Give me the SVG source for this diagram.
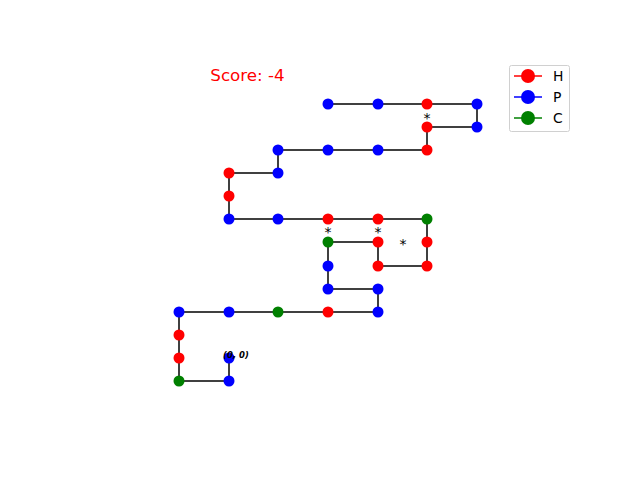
<svg xmlns="http://www.w3.org/2000/svg" width="640" height="480" viewBox="0 0 640 480">
<style>
.e{stroke:#404040;stroke-width:2;fill:none}
.H{fill:#ff0000}.P{fill:#0000ff}.C{fill:#008000}
.s{font-family:"DejaVu Sans",sans-serif;font-size:14px;fill:#000;text-anchor:middle}
.lg{font-family:"DejaVu Sans",sans-serif;font-size:13.9px;fill:#000}
</style>
<rect width="640" height="480" fill="#fff"/>
<text x="247.5" y="81" font-family="DejaVu Sans, sans-serif" font-size="16.7" fill="#ff0000" text-anchor="middle">Score: -4</text>
<g id="connectors">
<polyline class="e" points="229,358 229,381 179,381 179,358 179,335 179,312 229,312 278,312 328,312 378,312 378,289 328,289 328,266 328,242 378,242 378,266 427,266 427,242 427,219 378,219 328,219 278,219 229,219 229,196 229,173 278,173 278,150 328,150 378,150 427,150 427,127 477,127 477,104 427,104 378,104 328,104"/>
</g>
<g id="nodes">
<g id="n0"><circle class="P" cx="229" cy="358" r="5.5"/></g>
<g id="n1"><circle class="P" cx="229" cy="381" r="5.5"/></g>
<g id="n2"><circle class="C" cx="179" cy="381" r="5.5"/></g>
<g id="n3"><circle class="H" cx="179" cy="358" r="5.5"/></g>
<g id="n4"><circle class="H" cx="179" cy="335" r="5.5"/></g>
<g id="n5"><circle class="P" cx="179" cy="312" r="5.5"/></g>
<g id="n6"><circle class="P" cx="229" cy="312" r="5.5"/></g>
<g id="n7"><circle class="C" cx="278" cy="312" r="5.5"/></g>
<g id="n8"><circle class="H" cx="328" cy="312" r="5.5"/></g>
<g id="n9"><circle class="P" cx="378" cy="312" r="5.5"/></g>
<g id="n10"><circle class="P" cx="378" cy="289" r="5.5"/></g>
<g id="n11"><circle class="P" cx="328" cy="289" r="5.5"/></g>
<g id="n12"><circle class="P" cx="328" cy="266" r="5.5"/></g>
<g id="n13"><circle class="C" cx="328" cy="242" r="5.5"/></g>
<g id="n14"><circle class="H" cx="378" cy="242" r="5.5"/></g>
<g id="n15"><circle class="H" cx="378" cy="266" r="5.5"/></g>
<g id="n16"><circle class="H" cx="427" cy="266" r="5.5"/></g>
<g id="n17"><circle class="H" cx="427" cy="242" r="5.5"/></g>
<g id="n18"><circle class="C" cx="427" cy="219" r="5.5"/></g>
<g id="n19"><circle class="H" cx="378" cy="219" r="5.5"/></g>
<g id="n20"><circle class="H" cx="328" cy="219" r="5.5"/></g>
<g id="n21"><circle class="P" cx="278" cy="219" r="5.5"/></g>
<g id="n22"><circle class="P" cx="229" cy="219" r="5.5"/></g>
<g id="n23"><circle class="H" cx="229" cy="196" r="5.5"/></g>
<g id="n24"><circle class="H" cx="229" cy="173" r="5.5"/></g>
<g id="n25"><circle class="P" cx="278" cy="173" r="5.5"/></g>
<g id="n26"><circle class="P" cx="278" cy="150" r="5.5"/></g>
<g id="n27"><circle class="P" cx="328" cy="150" r="5.5"/></g>
<g id="n28"><circle class="P" cx="378" cy="150" r="5.5"/></g>
<g id="n29"><circle class="H" cx="427" cy="150" r="5.5"/></g>
<g id="n30"><circle class="H" cx="427" cy="127" r="5.5"/></g>
<g id="n31"><circle class="P" cx="477" cy="127" r="5.5"/></g>
<g id="n32"><circle class="P" cx="477" cy="104" r="5.5"/></g>
<g id="n33"><circle class="H" cx="427" cy="104" r="5.5"/></g>
<g id="n34"><circle class="P" cx="378" cy="104" r="5.5"/></g>
<g id="n35"><circle class="P" cx="328" cy="104" r="5.5"/></g>
</g>
<text x="236" y="358" font-family="DejaVu Sans, sans-serif" font-size="8.5" font-weight="bold" font-style="italic" fill="#000" text-anchor="middle">(0, 0)</text>
<g id="contacts">
<text class="s" x="328" y="237">*</text>
<text class="s" x="378" y="237">*</text>
<text class="s" x="403" y="249">*</text>
<text class="s" x="427" y="123">*</text>
</g>
<g id="legend">
<rect x="509.5" y="65.5" width="60" height="66" rx="2" fill="#fff" stroke="#d0d0d0"/>
<line x1="514" y1="76" x2="542" y2="76" stroke="#ff0000" stroke-width="1.5"/>
<circle cx="528" cy="76" r="7" class="H"/>
<text class="lg" x="553" y="81">H</text>
<line x1="514" y1="97" x2="542" y2="97" stroke="#0000ff" stroke-width="1.5"/>
<circle cx="528" cy="97" r="7" class="P"/>
<text class="lg" x="553" y="102">P</text>
<line x1="514" y1="118" x2="542" y2="118" stroke="#008000" stroke-width="1.5"/>
<circle cx="528" cy="118" r="7" class="C"/>
<text class="lg" x="553" y="123">C</text>
</g>
</svg>
